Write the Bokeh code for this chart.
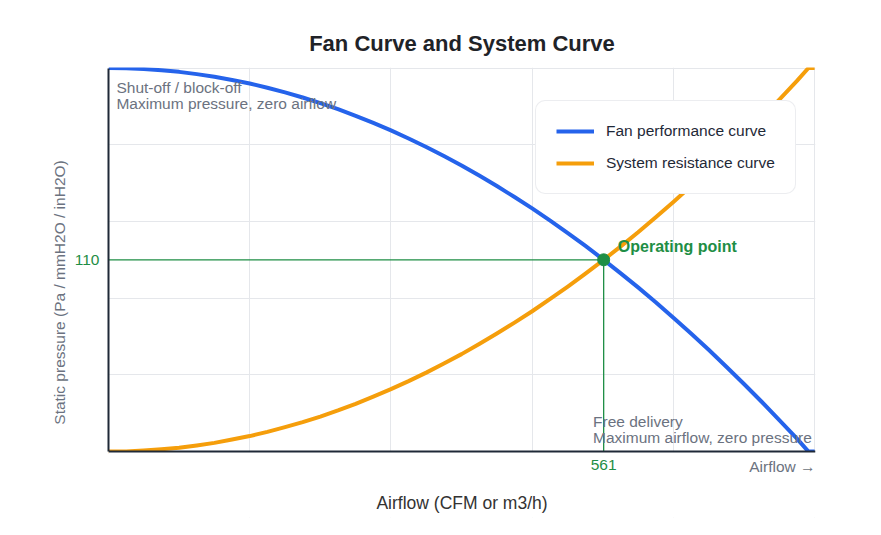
from bokeh.plotting import figure
from bokeh.models import Range1d, FixedTicker, Label, Legend, LegendItem, BoxAnnotation
from bokeh.embed import file_html
from bokeh.resources import INLINE

# Airflow samples and the pressures of both curves at them
airflow = [0, 20, 40, 60, 80, 100, 120, 140, 160, 180, 200, 220, 240, 260,
           280, 300, 320, 340, 360, 380, 400, 420, 440, 460, 480, 500, 520,
           540, 561, 580, 600, 620, 640, 660, 680, 700, 720, 740, 760, 780,
           793, 800]
fan_pressure = [220.0, 219.9, 219.4, 218.7, 217.8, 216.5, 215.0, 213.1, 211.1,
                208.7, 206.0, 203.1, 199.9, 196.4, 192.6, 188.5, 184.2, 179.6,
                174.7, 169.5, 164.1, 158.3, 152.3, 146.0, 139.5, 132.6, 125.5,
                118.1, 110.0, 102.4, 94.2, 85.7, 76.8, 67.8, 58.4, 48.7, 38.8,
                28.6, 18.1, 7.4, 0.0, 0.0]
system_pressure = [0.0, 0.1, 0.6, 1.3, 2.2, 3.5, 5.0, 6.9, 8.9, 11.3, 14.0,
                   16.9, 20.1, 23.6, 27.4, 31.5, 35.8, 40.4, 45.3, 50.5, 55.9,
                   61.7, 67.7, 74.0, 80.5, 87.4, 94.5, 101.9, 110.0, 117.6,
                   125.8, 134.4, 143.2, 152.3, 161.6, 171.3, 181.2, 191.4,
                   201.9, 212.6, 220.0, 220.0]

# Operating point (intersection of the two curves)
op_airflow = 561
op_pressure = 110

grid_x = [0, 160, 320, 480, 640, 800]
grid_y = [0, 44, 88, 132, 176, 220]

FONT = "Liberation Sans"
GREEN = "#1e8e45"
GRAY = "#6b7280"
BLUE = "#2563eb"
ORANGE = "#f59e0b"

# The frame reaches below zero pressure so the captions under the axis
# (tick value, axis-end hint, axis title) all sit inside it.
p = figure(width=881, height=535, output_backend="svg", toolbar_location=None,
           x_range=Range1d(0, 801), y_range=Range1d(-37.8, 220.3),
           min_border_left=108, min_border_right=66, min_border_top=67,
           min_border_bottom=18)

p.title.text = "Fan Curve and System Curve"
p.title.align = "center"
p.title.text_font = FONT
p.title.text_font_size = "22px"
p.title.text_font_style = "bold"
p.title.text_color = "#1f2328"
p.title.standoff = 24

p.outline_line_color = None
p.background_fill_color = "white"
p.border_fill_color = "white"

p.xgrid.ticker = FixedTicker(ticks=grid_x)
p.ygrid.ticker = FixedTicker(ticks=grid_y)
p.xgrid.grid_line_color = "#e5e7eb"
p.ygrid.grid_line_color = "#e5e7eb"

# blank out the grid below the zero line
p.add_layout(BoxAnnotation(top=0, fill_color="white", fill_alpha=1.0,
                           line_color=None, level="glyph"))

for ax in (p.xaxis[0], p.yaxis[0]):
    ax.axis_line_color = "#1f2937"
    ax.axis_line_width = 2
    ax.major_tick_line_color = None
    ax.minor_tick_line_color = None
    ax.major_tick_out = 0
    ax.major_tick_in = 0
    ax.major_label_text_color = GREEN
    ax.major_label_text_font = FONT
    ax.major_label_text_font_size = "15.5px"
    ax.axis_label_text_font = FONT
    ax.axis_label_text_font_style = "normal"

p.xaxis.fixed_location = 0
p.yaxis.bounds = (0, 220)

p.xaxis.ticker = FixedTicker(ticks=[op_airflow])
p.yaxis.ticker = FixedTicker(ticks=[op_pressure])
p.xaxis.major_label_standoff = 8
p.yaxis.major_label_standoff = 9

p.xaxis.axis_label = "Airflow (CFM or m3/h)"
p.xaxis.axis_label_text_font_size = "17.5px"
p.xaxis.axis_label_text_color = "#333333"
p.xaxis.axis_label_standoff = 20

p.yaxis.axis_label = "Static pressure (Pa / mmH2O / inH2O)"
p.yaxis.axis_label_text_font_size = "15.5px"
p.yaxis.axis_label_text_color = GRAY
p.yaxis.axis_label_standoff = 4

# Guide lines to the operating point
p.line([0, op_airflow], [op_pressure, op_pressure], line_color=GREEN, line_width=1.3)
p.line([op_airflow, op_airflow], [0, op_pressure], line_color=GREEN, line_width=1.3)

fan = p.line(airflow, fan_pressure, line_color=BLUE, line_width=4,
             line_join="round")
system = p.line(airflow, system_pressure, line_color=ORANGE, line_width=4,
                line_join="round")

p.scatter([op_airflow], [op_pressure], size=12, color=GREEN)

p.add_layout(Label(x=577, y=117.4, text="Operating point", text_font=FONT,
                   text_font_size="16px", text_font_style="bold",
                   text_color=GREEN, text_baseline="middle"))

notes = [
    (9, 209.1, "Shut-off / block-off", "left"),
    (9, 199.4, "Maximum pressure, zero airflow", "left"),
    (549, 17.2, "Free delivery", "left"),
    (549, 8.0, "Maximum airflow, zero pressure", "left"),
    (801, -8.6, "Airflow \u2192", "right"),
]
for nx, ny, txt, align in notes:
    p.add_layout(Label(x=nx, y=ny, text=txt, text_font=FONT,
                       text_font_size="15.5px", text_color=GRAY,
                       text_align=align, text_baseline="middle"))

legend = Legend(items=[LegendItem(label="Fan performance curve", renderers=[fan]),
                       LegendItem(label="System resistance curve", renderers=[system])],
                location=(427, 323))
legend.label_text_font = FONT
legend.label_text_font_size = "15.5px"
legend.label_text_color = "#1f2937"
legend.glyph_width = 38
legend.glyph_height = 20
legend.label_height = 20
legend.label_standoff = 12
legend.spacing = 12
legend.padding = 20
legend.margin = 0
legend.border_line_color = "#d9dce1"
legend.border_radius = 10
legend.background_fill_color = "white"
legend.background_fill_alpha = 1.0
p.add_layout(legend)

open("out.html", "w").write(file_html(p, INLINE))
